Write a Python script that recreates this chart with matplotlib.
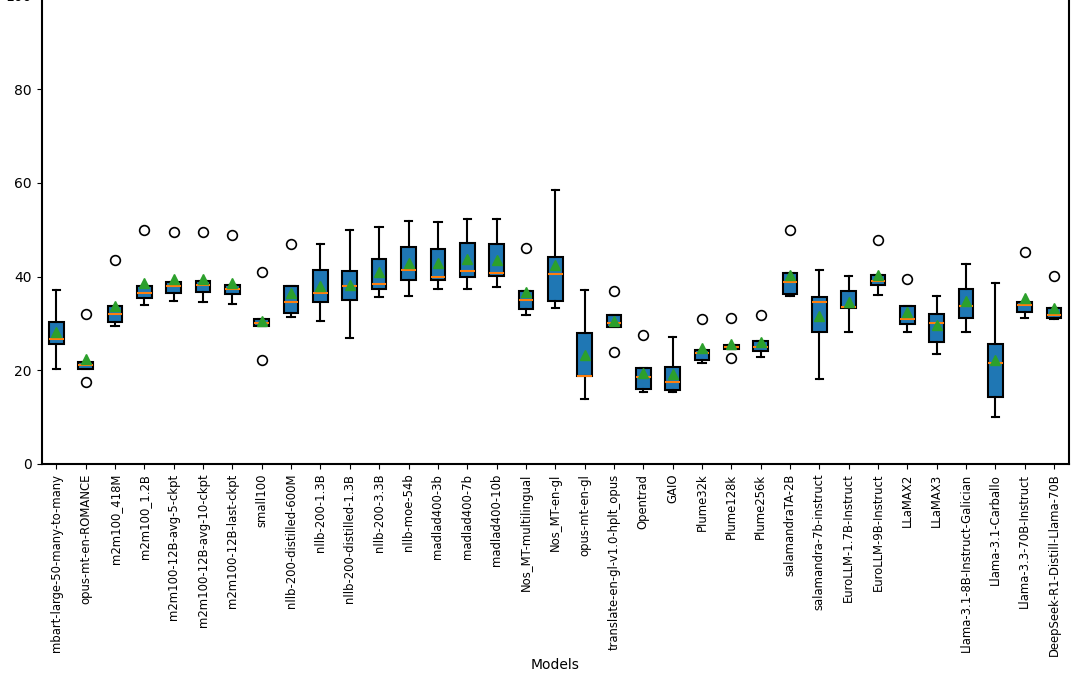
import matplotlib
matplotlib.use('Agg')
import matplotlib.pyplot as plt

models = [
    'mbart-large-50-many-to-many', 'opus-mt-en-ROMANCE', 'm2m100_418M', 'm2m100_1.2B',
    'm2m100-12B-avg-5-ckpt', 'm2m100-12B-avg-10-ckpt', 'm2m100-12B-last-ckpt', 'small100',
    'nllb-200-distilled-600M', 'nllb-200-1.3B', 'nllb-200-distilled-1.3B', 'nllb-200-3.3B',
    'nllb-moe-54b', 'madlad400-3b', 'madlad400-7b', 'madlad400-10b', 'Nos_MT-multilingual',
    'Nos_MT-en-gl', 'opus-mt-en-gl', 'translate-en-gl-v1.0-hplt_opus', 'Opentrad', 'GAIO',
    'Plume32k', 'Plume128k', 'Plume256k', 'salamandraTA-2B', 'salamandra-7b-instruct',
    'EuroLLM-1.7B-Instruct', 'EuroLLM-9B-Instruct', 'LLaMAX2', 'LLaMAX3',
    'Llama-3.1-8B-Instruct-Galician', 'Llama-3.1-Carballo', 'Llama-3.3-70B-Instruct',
    'DeepSeek-R1-Distill-Llama-70B',
]

# values
whis_lo = [20.3, 20.2, 29.4, 33.9, 34.8, 34.6, 34.1, 29.4, 31.4, 30.6, 26.8, 35.7,
           35.8, 37.4, 37.4, 37.7, 31.9, 33.4, 13.9, 29.3, 15.4, 15.4, 21.6, 24.5,
           22.9, 35.9, 18.1, 28.1, 36.1, 28.1, 23.5, 28.2, 10.1, 31.2, 30.9]
q1 = [25.7, 20.2, 30.4, 35.5, 36.5, 36.7, 36.2, 29.4, 32.3, 34.6, 35.1, 37.4,
      39.3, 39.3, 40.0, 40.1, 33.0, 34.8, 18.8, 29.3, 16.1, 15.9, 22.3, 24.5,
      24.2, 36.3, 28.2, 33.4, 38.2, 29.9, 26.0, 31.1, 14.2, 32.5, 31.1]
med = [26.7, 21.2, 32.0, 36.5, 38.0, 38.3, 37.4, 30.0, 34.6, 36.5, 38.0, 38.4,
       41.4, 39.9, 41.2, 40.8, 35.0, 40.5, 18.8, 30.2, 18.5, 17.6, 23.7, 25.0,
       25.0, 38.8, 34.6, 33.6, 39.0, 30.9, 30.2, 33.8, 21.6, 33.9, 31.8]
q3 = [30.4, 21.8, 33.7, 38.0, 38.9, 39.0, 38.3, 30.9, 38.0, 41.4, 41.2, 43.7,
      46.4, 45.8, 47.2, 46.9, 37.0, 44.2, 27.9, 31.8, 20.5, 20.6, 24.3, 25.5,
      26.3, 40.8, 35.7, 37.0, 40.3, 33.7, 32.0, 37.3, 25.6, 34.6, 33.4]
whis_hi = [37.1, 21.8, 33.7, 38.0, 38.9, 39.0, 38.3, 30.9, 38.0, 46.9, 49.9, 50.5,
           51.8, 51.7, 52.3, 52.3, 37.0, 58.4, 37.1, 31.8, 20.5, 27.2, 24.3, 25.5,
           26.3, 40.8, 41.5, 40.1, 40.3, 33.7, 35.9, 42.6, 38.7, 34.6, 33.4]
means = [28.2, 22.5, 33.7, 38.7, 39.4, 39.4, 38.7, 30.6, 36.5, 38.0, 38.3, 41.0,
         42.9, 42.8, 43.8, 43.5, 36.7, 42.5, 23.3, 30.6, 19.5, 19.3, 24.7, 25.7,
         26.1, 40.3, 31.6, 34.6, 40.3, 32.4, 29.7, 34.8, 22.2, 35.5, 33.2]
outliers = [[], [32.0, 17.4], [43.5], [49.9], [49.5], [49.6], [48.9], [41.0, 22.2],
            [46.9], [], [], [], [], [], [], [], [46.2], [], [], [37.0, 24.0], [27.5],
            [], [30.9], [31.2, 22.7], [31.8], [50.0], [], [], [47.9], [39.4], [], [],
            [], [45.3], [40.1]]

stats = []
for i in range(len(models)):
    stats.append({'label': models[i], 'whislo': whis_lo[i], 'q1': q1[i], 'med': med[i],
                  'q3': q3[i], 'whishi': whis_hi[i], 'mean': means[i],
                  'fliers': outliers[i]})

fig = plt.figure(figsize=(10.8, 6.75), dpi=100)
ax = fig.add_axes([0.0386, 0.3126, 0.951, 0.694])

bp = ax.bxp(stats, patch_artist=True, showmeans=True,
            boxprops=dict(facecolor='#1f77b4', edgecolor='black', linewidth=1.5),
            medianprops=dict(color='#ff7f0e', linewidth=1.5),
            whiskerprops=dict(color='black', linewidth=1.5),
            capprops=dict(color='black', linewidth=1.5),
            meanprops=dict(marker='^', markerfacecolor='#2ca02c',
                           markeredgecolor='#2ca02c', markersize=7.5),
            flierprops=dict(marker='o', markerfacecolor='none',
                            markeredgecolor='black', markersize=7, markeredgewidth=1.2))

ax.set_ylim(0, 100)
ax.set_xticklabels(models, rotation=90, fontsize=8.4)
ax.tick_params(axis='y', labelsize=10)
ax.set_xlabel('Models', fontsize=10, labelpad=1)
for s in ax.spines.values():
    s.set_linewidth(1.5)

fig.savefig('out.png', dpi=100)
